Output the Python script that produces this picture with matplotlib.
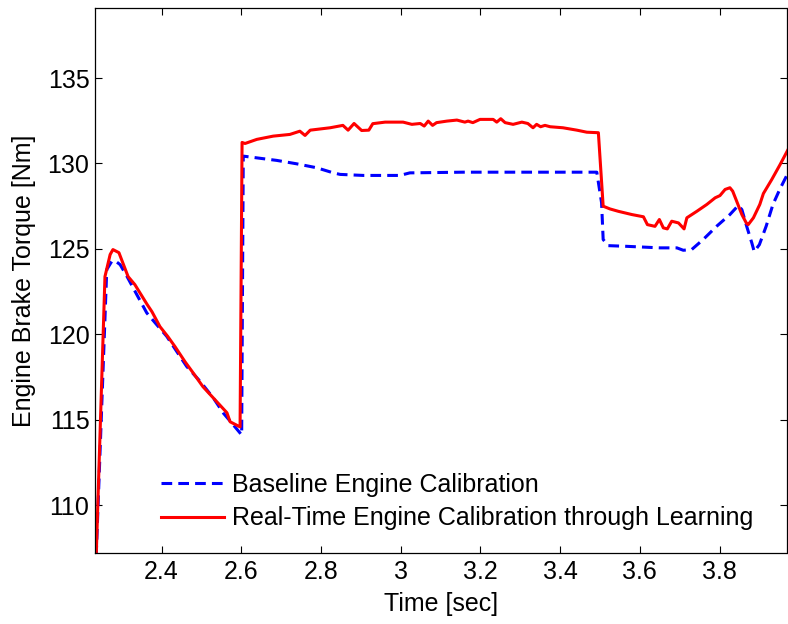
import matplotlib.pyplot as plt

plt.rcParams['font.family'] = ['Liberation Sans', 'DejaVu Sans']

# Baseline engine calibration (blue dashed)
t_base = [2.236, 2.2625, 2.275, 2.283, 2.296, 2.313, 2.338, 2.363, 2.388, 2.413,
          2.438, 2.463, 2.497, 2.530, 2.555, 2.580, 2.601, 2.605, 2.655, 2.689,
          2.739, 2.789, 2.831, 2.848, 2.906, 2.998, 3.023, 3.156, 3.492, 3.504,
          3.508, 3.521, 3.567, 3.651, 3.693, 3.709, 3.730, 3.759, 3.793, 3.826,
          3.847, 3.856, 3.868, 3.881, 3.887, 3.900, 3.917, 3.934, 3.951, 3.972]
v_base = [107.0, 123.79, 124.27, 124.31, 124.08, 123.40, 122.32, 121.25, 120.56, 119.88,
          119.00, 118.12, 117.24, 116.27, 115.39, 114.70, 114.11, 130.43, 130.28, 130.18,
          129.98, 129.75, 129.45, 129.36, 129.30, 129.30, 129.45, 129.49, 129.49, 127.70,
          125.55, 125.19, 125.15, 125.06, 125.06, 124.92, 124.96, 125.55, 126.33, 127.01,
          127.54, 127.30, 126.33, 125.35, 124.84, 125.25, 126.33, 127.60, 128.48, 129.45]

# Real-time engine calibration through learning (red solid)
t_learn = [2.236, 2.258, 2.271, 2.278, 2.293, 2.316, 2.333, 2.364, 2.376, 2.396,
           2.416, 2.434, 2.459, 2.479, 2.504, 2.534, 2.564, 2.572, 2.597, 2.602,
           2.6095, 2.639, 2.680, 2.722, 2.747, 2.760, 2.773, 2.823, 2.855, 2.868,
           2.883, 2.902, 2.920, 2.930, 2.961, 3.006, 3.028, 3.049, 3.059, 3.069,
           3.080, 3.090, 3.116, 3.141, 3.161, 3.169, 3.181, 3.199, 3.232, 3.241,
           3.251, 3.262, 3.282, 3.304, 3.319, 3.332, 3.341, 3.351, 3.362, 3.375,
           3.407, 3.442, 3.467, 3.496, 3.508, 3.525, 3.546, 3.580, 3.609, 3.619,
           3.638, 3.649, 3.659, 3.669, 3.680, 3.697, 3.711, 3.718, 3.743, 3.768,
           3.789, 3.801, 3.814, 3.826, 3.833, 3.843, 3.856, 3.868, 3.872, 3.885,
           3.901, 3.910, 3.931, 3.952, 3.972]
v_learn = [107.0, 123.38, 124.67, 124.96, 124.78, 123.38, 122.91, 121.74, 121.32, 120.45,
           119.86, 119.27, 118.39, 117.75, 116.93, 116.17, 115.41, 114.88, 114.58, 131.23,
           131.17, 131.41, 131.60, 131.70, 131.89, 131.64, 131.95, 132.09, 132.23, 131.95,
           132.34, 131.93, 131.95, 132.33, 132.42, 132.42, 132.29, 132.34, 132.19, 132.48,
           132.23, 132.39, 132.48, 132.54, 132.42, 132.48, 132.39, 132.58, 132.58, 132.42,
           132.62, 132.39, 132.29, 132.42, 132.34, 132.09, 132.29, 132.15, 132.23, 132.15,
           132.09, 131.95, 131.83, 131.80, 127.50, 127.34, 127.20, 127.01, 126.88, 126.42,
           126.32, 126.72, 126.23, 126.17, 126.62, 126.52, 126.17, 126.82, 127.20, 127.60,
           127.99, 128.12, 128.48, 128.58, 128.38, 127.79, 127.01, 126.48, 126.42, 126.82,
           127.60, 128.24, 129.06, 129.94, 130.82]

x_ticks = [2.4, 2.6, 2.8, 3.0, 3.2, 3.4, 3.6, 3.8]
x_labels = ['2.4', '2.6', '2.8', '3', '3.2', '3.4', '3.6', '3.8']
y_ticks = [110, 115, 120, 125, 130, 135]

fig = plt.figure(figsize=(7.88, 6.24), dpi=100)
ax = fig.add_axes([95 / 788, 1 - 553 / 624, (786.5 - 95) / 788, (553 - 8) / 624])

ax.plot(t_base, v_base, color='#0000ff', linestyle=(0, (3.5, 2)), linewidth=2.2,
        label='Baseline Engine Calibration')
ax.plot(t_learn, v_learn, color='#ff0000', linestyle='-', linewidth=2.2,
        label='Real-Time Engine Calibration through Learning')

ax.set_xlim(2.233, 3.968)
ax.set_ylim(107.2, 139.1)
ax.set_xticks(x_ticks)
ax.set_xticklabels(x_labels)
ax.set_yticks(y_ticks)
ax.tick_params(direction='in', length=5, width=0.8, top=True, right=True,
               labelsize=18, pad=5)
ax.tick_params(axis='y', pad=4)
for s in ax.spines.values():
    s.set_linewidth(0.9)

ax.set_xlabel('Time [sec]', fontsize=18, labelpad=6)
ax.set_ylabel('Engine Brake Torque [Nm]', fontsize=18, labelpad=8)

ax.legend(loc='lower left', bbox_to_anchor=(0.063, 0.0), frameon=False,
          fontsize=18, handlelength=2.5, handletextpad=0.32, labelspacing=0.38)

fig.savefig('out.png', dpi=100)
